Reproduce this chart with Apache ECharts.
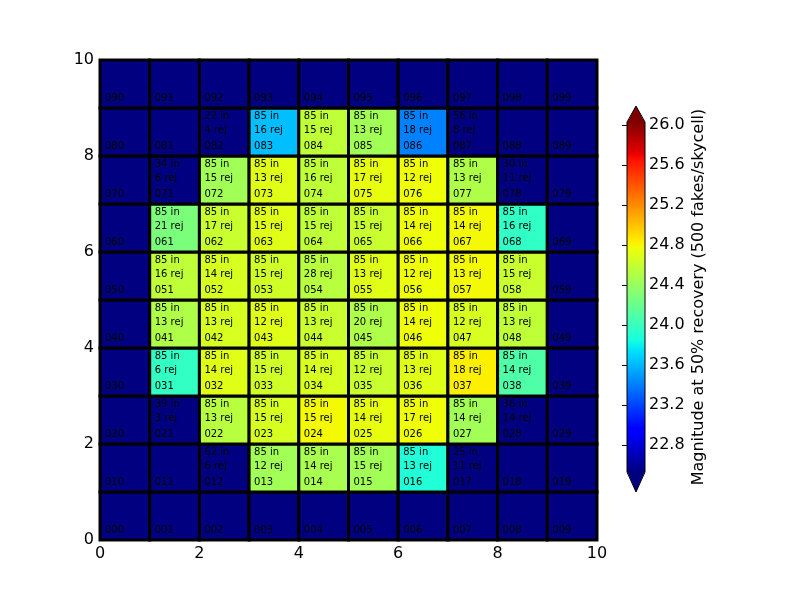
<!DOCTYPE html>
<html>
<head>
<meta charset="utf-8">
<script src="https://cdn.jsdelivr.net/npm/echarts@6/dist/echarts.min.js"></script>
</head>
<body style="margin:0;background:#ffffff">
<div id="chart" style="width:800px;height:600px"></div>
<script>
// ---------------- DATA ----------------
const axisTicks = [0, 2, 4, 6, 8, 10];
const colorbarTicks = [22.8, 23.2, 23.6, 24.0, 24.4, 24.8, 25.2, 25.6, 26.0];
const colorbarTitle = 'Magnitude at 50% recovery (500 fakes/skycell)';
const magMin = 22.53;
const magMax = 26.03;

// Magnitude per cell; row 0 is the bottom row, column 0 the left column (null = no fit)
const magRow0 = [null, null, null, null, null, null, null, null, null, null];
const magRow1 = [null, null, null, 24.44, 24.47, 24.44, 23.89, null, null, null];
const magRow2 = [null, null, 24.54, 24.67, 24.79, 24.74, 24.77, 24.44, null, null];
const magRow3 = [null, 23.97, 24.71, 24.64, 24.67, 24.61, 24.71, 24.83, 24.09, null];
const magRow4 = [null, 24.50, 24.67, 24.71, 24.61, 24.50, 24.77, 24.67, 24.57, null];
const magRow5 = [null, 24.57, 24.67, 24.64, 24.54, 24.71, 24.77, 24.79, 24.61, null];
const magRow6 = [null, 24.28, 24.61, 24.71, 24.57, 24.61, 24.77, 24.79, 23.96, null];
const magRow7 = [null, null, 24.44, 24.71, 24.57, 24.74, 24.77, 24.50, null, null];
const magRow8 = [null, null, null, 23.62, 24.57, 24.44, 23.41, null, null, null];
const magRow9 = [null, null, null, null, null, null, null, null, null, null];

// "N in" counts per cell
const inRow0 = [null, null, null, null, null, null, null, null, null, null];
const inRow1 = [null, null, 62, 85, 85, 85, 85, 25, null, null];
const inRow2 = [null, 39, 85, 85, 85, 85, 85, 85, 36, null];
const inRow3 = [null, 85, 85, 85, 85, 85, 85, 85, 85, null];
const inRow4 = [null, 85, 85, 85, 85, 85, 85, 85, 85, null];
const inRow5 = [null, 85, 85, 85, 85, 85, 85, 85, 85, null];
const inRow6 = [null, 85, 85, 85, 85, 85, 85, 85, 85, null];
const inRow7 = [null, 34, 85, 85, 85, 85, 85, 85, 30, null];
const inRow8 = [null, null, 22, 85, 85, 85, 85, 56, null, null];
const inRow9 = [null, null, null, null, null, null, null, null, null, null];

// "N rej" counts per cell
const rejRow0 = [null, null, null, null, null, null, null, null, null, null];
const rejRow1 = [null, null, 6, 12, 14, 15, 13, 11, null, null];
const rejRow2 = [null, 3, 13, 15, 15, 14, 17, 14, 14, null];
const rejRow3 = [null, 6, 14, 15, 14, 12, 13, 18, 14, null];
const rejRow4 = [null, 13, 13, 12, 13, 20, 14, 12, 13, null];
const rejRow5 = [null, 16, 14, 15, 28, 13, 12, 13, 15, null];
const rejRow6 = [null, 21, 17, 15, 15, 15, 14, 14, 16, null];
const rejRow7 = [null, 6, 15, 13, 16, 17, 12, 13, 11, null];
const rejRow8 = [null, null, 4, 16, 15, 13, 18, 8, null, null];
const rejRow9 = [null, null, null, null, null, null, null, null, null, null];

// ---------------- BUILD ----------------
const magRows = [magRow0, magRow1, magRow2, magRow3, magRow4, magRow5, magRow6, magRow7, magRow8, magRow9];
const inRows = [inRow0, inRow1, inRow2, inRow3, inRow4, inRow5, inRow6, inRow7, inRow8, inRow9];
const rejRows = [rejRow0, rejRow1, rejRow2, rejRow3, rejRow4, rejRow5, rejRow6, rejRow7, rejRow8, rejRow9];

const cells = [];
for (let r = 0; r < 10; r++) {
  for (let c = 0; c < 10; c++) {
    cells.push({
      c: c, r: r,
      mag: magRows[r][c],
      inN: inRows[r][c],
      rej: rejRows[r][c],
      label: '0' + r + c
    });
  }
}

// matplotlib "jet" colormap (style only)
const JET = {
  r: [[0, 0], [0.35, 0], [0.66, 1], [0.89, 1], [1, 0.5]],
  g: [[0, 0], [0.125, 0], [0.375, 1], [0.64, 1], [0.91, 0], [1, 0]],
  b: [[0, 0.5], [0.11, 1], [0.34, 1], [0.65, 0], [1, 0]]
};
function seg(pts, t) {
  for (let i = 0; i < pts.length - 1; i++) {
    const a = pts[i], b = pts[i + 1];
    if (t <= b[0]) {
      const f = (t - a[0]) / (b[0] - a[0]);
      return a[1] + (b[1] - a[1]) * f;
    }
  }
  return pts[pts.length - 1][1];
}
function jet(t) {
  const to = v => Math.round(Math.max(0, Math.min(1, v)) * 255);
  return 'rgb(' + to(seg(JET.r, t)) + ',' + to(seg(JET.g, t)) + ',' + to(seg(JET.b, t)) + ')';
}
const jetColors = [];
for (let i = 0; i <= 100; i++) jetColors.push(jet(i / 100));
const UNDER = '#000080';
const OVER = '#800000';
const FONT = '"DejaVu Sans", Verdana, sans-serif';

function txt(x, y, s) {
  return {
    type: 'text',
    style: {
      text: s, x: x, y: y,
      fill: '#000000',
      font: '10px ' + FONT,
      align: 'left', verticalAlign: 'middle',
      textAlign: 'left', textVerticalAlign: 'middle'
    }
  };
}

function renderCell(params, api) {
  const d = cells[params.dataIndex];
  const p0 = api.coord([d.c, d.r + 1]);
  const p1 = api.coord([d.c + 1, d.r]);
  let fill = UNDER;
  if (d.mag != null) {
    const v = api.visual('color');
    if (v) fill = v;
  }
  const children = [{
    type: 'rect',
    shape: { x: p0[0], y: p0[1], width: p1[0] - p0[0], height: p1[1] - p0[1] },
    style: { fill: fill, stroke: '#000000', lineWidth: 3 }
  }];
  const tx = p0[0] + 5;
  if (d.inN != null) {
    children.push(txt(tx, p0[1] + 8.5, d.inN + ' in'));
    children.push(txt(tx, p0[1] + 22.5, d.rej + ' rej'));
  }
  children.push(txt(tx, p1[1] - 10, d.label));
  return { type: 'group', children: children };
}

function renderBar(params, api) {
  const top = api.coord([0, api.value(1)]);
  const bot = api.coord([1, api.value(0)]);
  const x0 = top[0], x1 = bot[0], y0 = top[1], y1 = bot[1];
  const xm = (x0 + x1) / 2;
  const stops = [];
  for (let i = 0; i < jetColors.length; i++) {
    stops.push({ offset: i / (jetColors.length - 1), color: jetColors[jetColors.length - 1 - i] });
  }
  const tipTop = 16, tipBot = 20;
  return {
    type: 'group',
    children: [
      { type: 'rect', shape: { x: x0, y: y0, width: x1 - x0, height: y1 - y0 },
        style: { fill: { type: 'linear', x: 0, y: 0, x2: 0, y2: 1, colorStops: stops }, stroke: null } },
      { type: 'polygon', shape: { points: [[x0, y0 + 0.5], [xm, y0 - tipTop], [x1, y0 + 0.5]] },
        style: { fill: OVER, stroke: null } },
      { type: 'polygon', shape: { points: [[x0, y1 - 0.5], [xm, y1 + tipBot], [x1, y1 - 0.5]] },
        style: { fill: UNDER, stroke: null } },
      { type: 'polygon', shape: { points: [[x0, y1], [x0, y0], [xm, y0 - tipTop], [x1, y0], [x1, y1], [xm, y1 + tipBot]] },
        style: { fill: null, stroke: '#000000', lineWidth: 1 } }
    ]
  };
}

const chart = echarts.init(document.getElementById('chart'));
chart.setOption({
  backgroundColor: '#ffffff',
  animation: false,
  textStyle: { fontFamily: FONT },
  grid: [
    { left: 100, top: 60, width: 497, height: 480, show: true, borderColor: '#000000', borderWidth: 1, backgroundColor: 'transparent' },
    { left: 627, top: 122, width: 18, height: 350, show: false }
  ],
  xAxis: [
    {
      gridIndex: 0, type: 'value', min: axisTicks[0], max: axisTicks[axisTicks.length - 1], interval: 2,
      axisLine: { show: true, onZero: false, lineStyle: { color: '#000000', width: 1 } },
      axisTick: { show: true, inside: true, length: 4, lineStyle: { color: '#000000' } },
      axisLabel: { fontSize: 16, color: '#000000', margin: 6, fontFamily: FONT },
      splitLine: { show: false }
    },
    { gridIndex: 1, type: 'value', min: 0, max: 1, show: false }
  ],
  yAxis: [
    {
      gridIndex: 0, type: 'value', min: axisTicks[0], max: axisTicks[axisTicks.length - 1], interval: 2,
      axisLine: { show: true, onZero: false, lineStyle: { color: '#000000', width: 1 } },
      axisTick: { show: true, inside: true, length: 4, lineStyle: { color: '#000000' } },
      axisLabel: { fontSize: 16, color: '#000000', margin: 6, fontFamily: FONT },
      splitLine: { show: false }
    },
    {
      gridIndex: 1, type: 'value', min: magMin, max: magMax, position: 'right',
      axisLine: { show: false },
      axisTick: { show: true, inside: true, length: 5, customValues: colorbarTicks, lineStyle: { color: '#000000' } },
      axisLabel: { customValues: colorbarTicks, formatter: v => Number(v).toFixed(1), fontSize: 16, color: '#000000', margin: 4, fontFamily: FONT },
      splitLine: { show: false },
      name: colorbarTitle, nameLocation: 'middle', nameRotate: 90, nameGap: 46,
      nameTextStyle: { fontSize: 16, color: '#000000', fontFamily: FONT }
    }
  ],
  visualMap: {
    show: false, type: 'continuous', min: magMin, max: magMax, dimension: 2, seriesIndex: 0,
    inRange: { color: jetColors },
    outOfRange: { color: [UNDER] }
  },
  series: [
    {
      type: 'custom', xAxisIndex: 0, yAxisIndex: 0, clip: false,
      renderItem: renderCell,
      encode: { x: 0, y: 1 },
      data: cells.map(d => [d.c, d.r, d.mag == null ? NaN : d.mag]),
      z: 2
    },
    {
      type: 'custom', xAxisIndex: 1, yAxisIndex: 1, clip: false,
      renderItem: renderBar,
      data: [[magMin, magMax]],
      encode: { x: 0, y: 1 },
      z: 1
    }
  ]
});
</script>
</body>
</html>
